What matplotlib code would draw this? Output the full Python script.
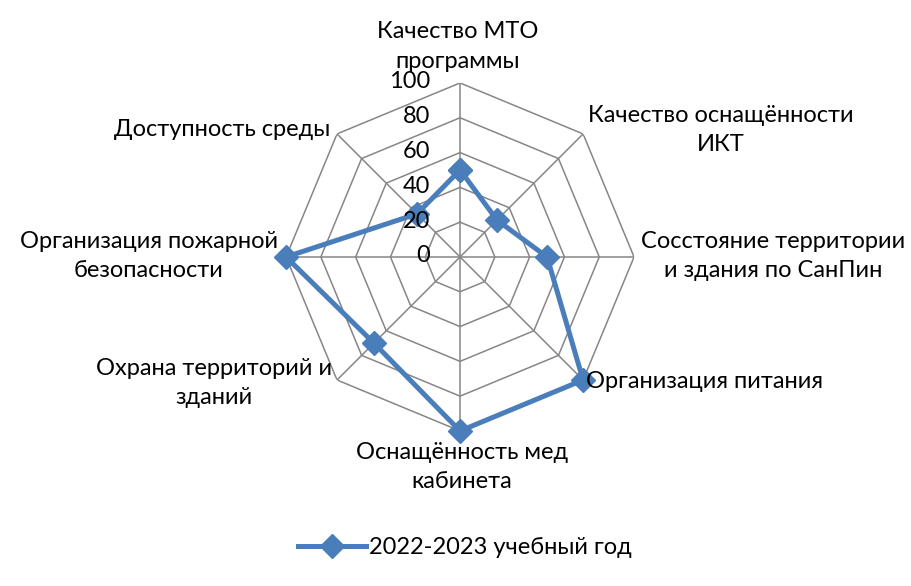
"""Radar chart: оценка материально-технического обеспечения, 2022-2023."""

import matplotlib

matplotlib.use("Agg")

import matplotlib.pyplot as plt
import numpy as np
from matplotlib.lines import Line2D

plt.rcParams["font.family"] = ["Lato", "DejaVu Sans"]

CATEGORIES = [
    "Качество МТО\nпрограммы",
    "Качество оснащённости\nИКТ",
    "Сосстояние территории\nи здания по СанПин",
    "Организация питания",
    "Оснащённость мед\nкабинета",
    "Охрана территорий и\nзданий",
    "Организация пожарной\nбезопасности",
    "Доступность среды",
]
VALUES = [50, 30, 50, 100, 100, 70, 100, 35]
SERIES_NAME = "2022-2023 учебный год"
R_TICKS = [0, 20, 40, 60, 80, 100]

# label placement: (dx px, dy px, ha, va)
LABEL_STYLE = [
    (-2, 11, "center", "bottom"),
    (5, 4, "left", "center"),
    (7, 1, "left", "center"),
    (3, -2, "left", "center"),
    (2, -11, "center", "top"),
    (-5, -3, "right", "center"),
    (-8, 1, "right", "center"),
    (-7, 4, "right", "center"),
]

BLUE = "#4a7ebb"
GRID = "#868686"
FONT_SIZE = 17


def main() -> None:
    fig = plt.figure(figsize=(9.11, 5.86), dpi=100)
    ax = fig.add_axes([0.314, 0.2645, 0.382, 0.594], projection="polar")
    ax.set_theta_zero_location("N")
    ax.set_theta_direction(-1)
    ax.set_ylim(0, R_TICKS[-1])
    ax.grid(False)
    ax.set_xticks([])
    ax.set_yticks([])
    ax.spines["polar"].set_visible(False)
    ax.patch.set_visible(False)

    n = len(CATEGORIES)
    theta = np.linspace(0, 2 * np.pi, n, endpoint=False)
    theta_closed = np.append(theta, theta[0])

    for r in R_TICKS[1:]:
        ax.plot(theta_closed, [r] * (n + 1), color=GRID, lw=1.1, zorder=1)
    for t in theta:
        ax.plot([t, t], [0, R_TICKS[-1]], color=GRID, lw=1.1, zorder=1)

    vals = VALUES + VALUES[:1]
    ax.plot(theta_closed, vals, color=BLUE, lw=3.6, marker="D", markersize=12.5,
            zorder=3, clip_on=False)

    for r in R_TICKS:
        ax.annotate(str(r), xy=(0, r), xytext=(-30, 1), textcoords="offset pixels",
                    ha="right", va="center", fontsize=FONT_SIZE, zorder=4)

    for t, label, (dx, dy, ha, va) in zip(theta, CATEGORIES, LABEL_STYLE):
        ax.annotate(label, xy=(t, R_TICKS[-1]), xytext=(dx, dy), textcoords="offset pixels",
                    ha=ha, va=va, multialignment="center", fontsize=FONT_SIZE,
                    linespacing=1.5, annotation_clip=False)

    handle = Line2D([], [], color=BLUE, lw=3.6, marker="D", markersize=12.5)
    fig.legend([handle], [SERIES_NAME], loc="center", bbox_to_anchor=(0.51, 1 - 548 / 586),
               frameon=False, fontsize=FONT_SIZE, handlelength=2.9, handletextpad=0.1)

    fig.savefig("out.png", dpi=100)
    plt.close(fig)


if __name__ == "__main__":
    main()
